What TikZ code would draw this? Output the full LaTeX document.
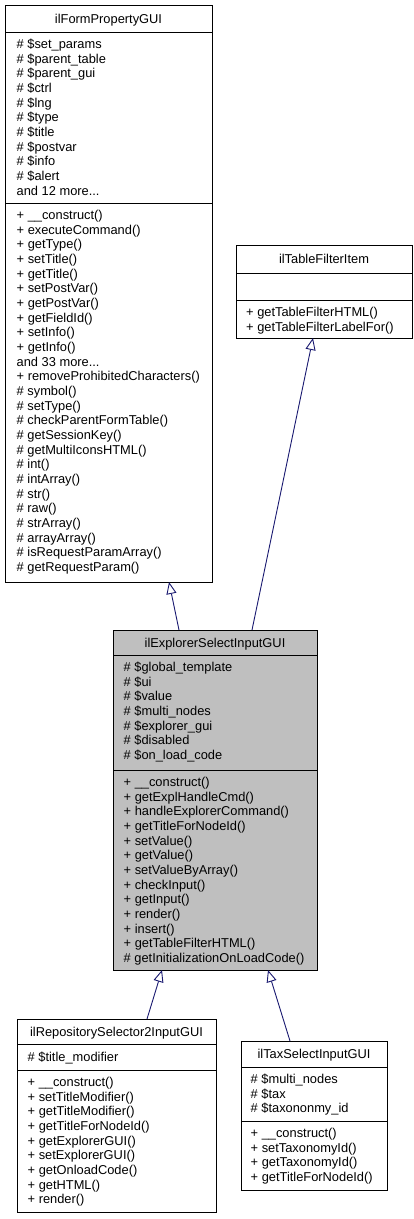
\documentclass[tikz,border=0pt]{standalone}
\usepackage{fontspec}
\setmainfont{Liberation Sans}
\usetikzlibrary{arrows.meta}
\definecolor{edgeblue}{RGB}{25,25,112}
\definecolor{hlgray}{RGB}{191,191,191}
\newcommand\threedots{...}
\newcommand\memberlines[4]{%
  \foreach \t [count=\i] in {#4} {\node[txt] (#1\i) at (#2, {#3+4.5+(\i-1)*14.67}) {\t};}}
\begin{document}
\begin{tikzpicture}[x=1pt,y=-1pt,
  cls/.style={draw=black, line width=0.9pt, anchor=north west, inner sep=0pt, outer sep=0pt, fill=white},
  txt/.style={anchor=base west, inner sep=0pt, font=\fontsize{12.85}{14.7}\selectfont},
  ttl/.style={anchor=base, inner sep=0pt, font=\fontsize{12.85}{14.7}\selectfont},
  divline/.style={draw=black, line width=0.9pt},
  inh/.style={draw=edgeblue, line width=0.9pt, -{Triangle[length=12pt,width=10pt,fill=white]}}]
\useasboundingbox (0,0) rectangle (413,1219);

% ilFormPropertyGUI
\node[cls, minimum width=207pt, minimum height=577pt] (fpg) at (5,5) {};
\draw[divline] (fpg.west |- 0,32) -- (fpg.east |- 0,32);
\draw[divline] (fpg.west |- 0,203) -- (fpg.east |- 0,203);
\node[ttl] (fpgt) at (108.5,23) {ilFormPropertyGUI};
\memberlines{fpga}{16.5}{44}{\# \$set\_params,\# \$parent\_table,\# \$parent\_gui,\# \$ctrl,\# \$lng,\# \$type,\# \$title,\# \$postvar,\# \$info,\# \$alert,and 12 more\threedots}
\memberlines{fpgm}{16.5}{215}{+ \_\_construct(),+ executeCommand(),+ getType(),+ setTitle(),+ getTitle(),+ setPostVar(),+ getPostVar(),+ getFieldId(),+ setInfo(),+ getInfo(),and 33 more\threedots,+ removeProhibitedCharacters(),\# symbol(),\# setType(),\# checkParentFormTable(),\# getSessionKey(),\# getMultiIconsHTML(),\# int(),\# intArray(),\# str(),\# raw(),\# strArray(),\# arrayArray(),\# isRequestParamArray(),\# getRequestParam()}

% ilTableFilterItem
\node[cls, minimum width=176pt, minimum height=93pt] (tfi) at (236,245) {};
\draw[divline] (tfi.west |- 0,273) -- (tfi.east |- 0,273);
\draw[divline] (tfi.west |- 0,300) -- (tfi.east |- 0,300);
\node[ttl] (tfit) at (324,263.5) {ilTableFilterItem};
\memberlines{tfim}{246}{312}{+ getTableFilterHTML(),+ getTableFilterLabelFor()}

% ilExplorerSelectInputGUI
\node[cls, fill=hlgray, minimum width=204pt, minimum height=340pt] (esi) at (113,630) {};
\draw[divline] (esi.west |- 0,655) -- (esi.east |- 0,655);
\draw[divline] (esi.west |- 0,770) -- (esi.east |- 0,770);
\node[ttl] (esit) at (215,647) {ilExplorerSelectInputGUI};
\memberlines{esia}{123.5}{667}{\# \$global\_template,\# \$ui,\# \$value,\# \$multi\_nodes,\# \$explorer\_gui,\# \$disabled,\# \$on\_load\_code}
\memberlines{esim}{123.5}{782}{+ \_\_construct(),+ getExplHandleCmd(),+ handleExplorerCommand(),+ getTitleForNodeId(),+ setValue(),+ getValue(),+ setValueByArray(),+ checkInput(),+ getInput(),+ render(),+ insert(),+ getTableFilterHTML(),\# getInitializationOnLoadCode()}

% ilRepositorySelector2InputGUI
\node[cls, minimum width=199pt, minimum height=193pt] (repo) at (17,1019) {};
\draw[divline] (repo.west |- 0,1044) -- (repo.east |- 0,1044);
\draw[divline] (repo.west |- 0,1070) -- (repo.east |- 0,1070);
\node[ttl] (repot) at (116.5,1036) {ilRepositorySelector2InputGUI};
\memberlines{repoa}{27.5}{1057}{\# \$title\_modifier}
\memberlines{repom}{27.5}{1082}{+ \_\_construct(),+ setTitleModifier(),+ getTitleModifier(),+ getTitleForNodeId(),+ getExplorerGUI(),+ setExplorerGUI(),+ getOnloadCode(),+ getHTML(),+ render()}

% ilTaxSelectInputGUI
\node[cls, minimum width=146pt, minimum height=149pt] (tax) at (241,1041) {};
\draw[divline] (tax.west |- 0,1067) -- (tax.east |- 0,1067);
\draw[divline] (tax.west |- 0,1121) -- (tax.east |- 0,1121);
\node[ttl] (taxt) at (314,1058.5) {ilTaxSelectInputGUI};
\memberlines{taxa}{250.5}{1079}{\# \$multi\_nodes,\# \$tax,\# \$taxononmy\_id}
\memberlines{taxm}{250.5}{1133}{+ \_\_construct(),+ setTaxonomyId(),+ getTaxonomyId(),+ getTitleForNodeId()}

% inheritance connectors
\draw[inh] ([xshift=66pt]esi.north west) -- ([xshift=164pt]fpg.south west);
\draw[inh] ([xshift=139pt]esi.north west) -- ([xshift=77pt]tfi.south west);
\draw[inh] ([xshift=130pt]repo.north west) -- ([xshift=49pt]esi.south west);
\draw[inh] ([xshift=49pt]tax.north west) -- ([xshift=155pt]esi.south west);
\end{tikzpicture}
\end{document}
